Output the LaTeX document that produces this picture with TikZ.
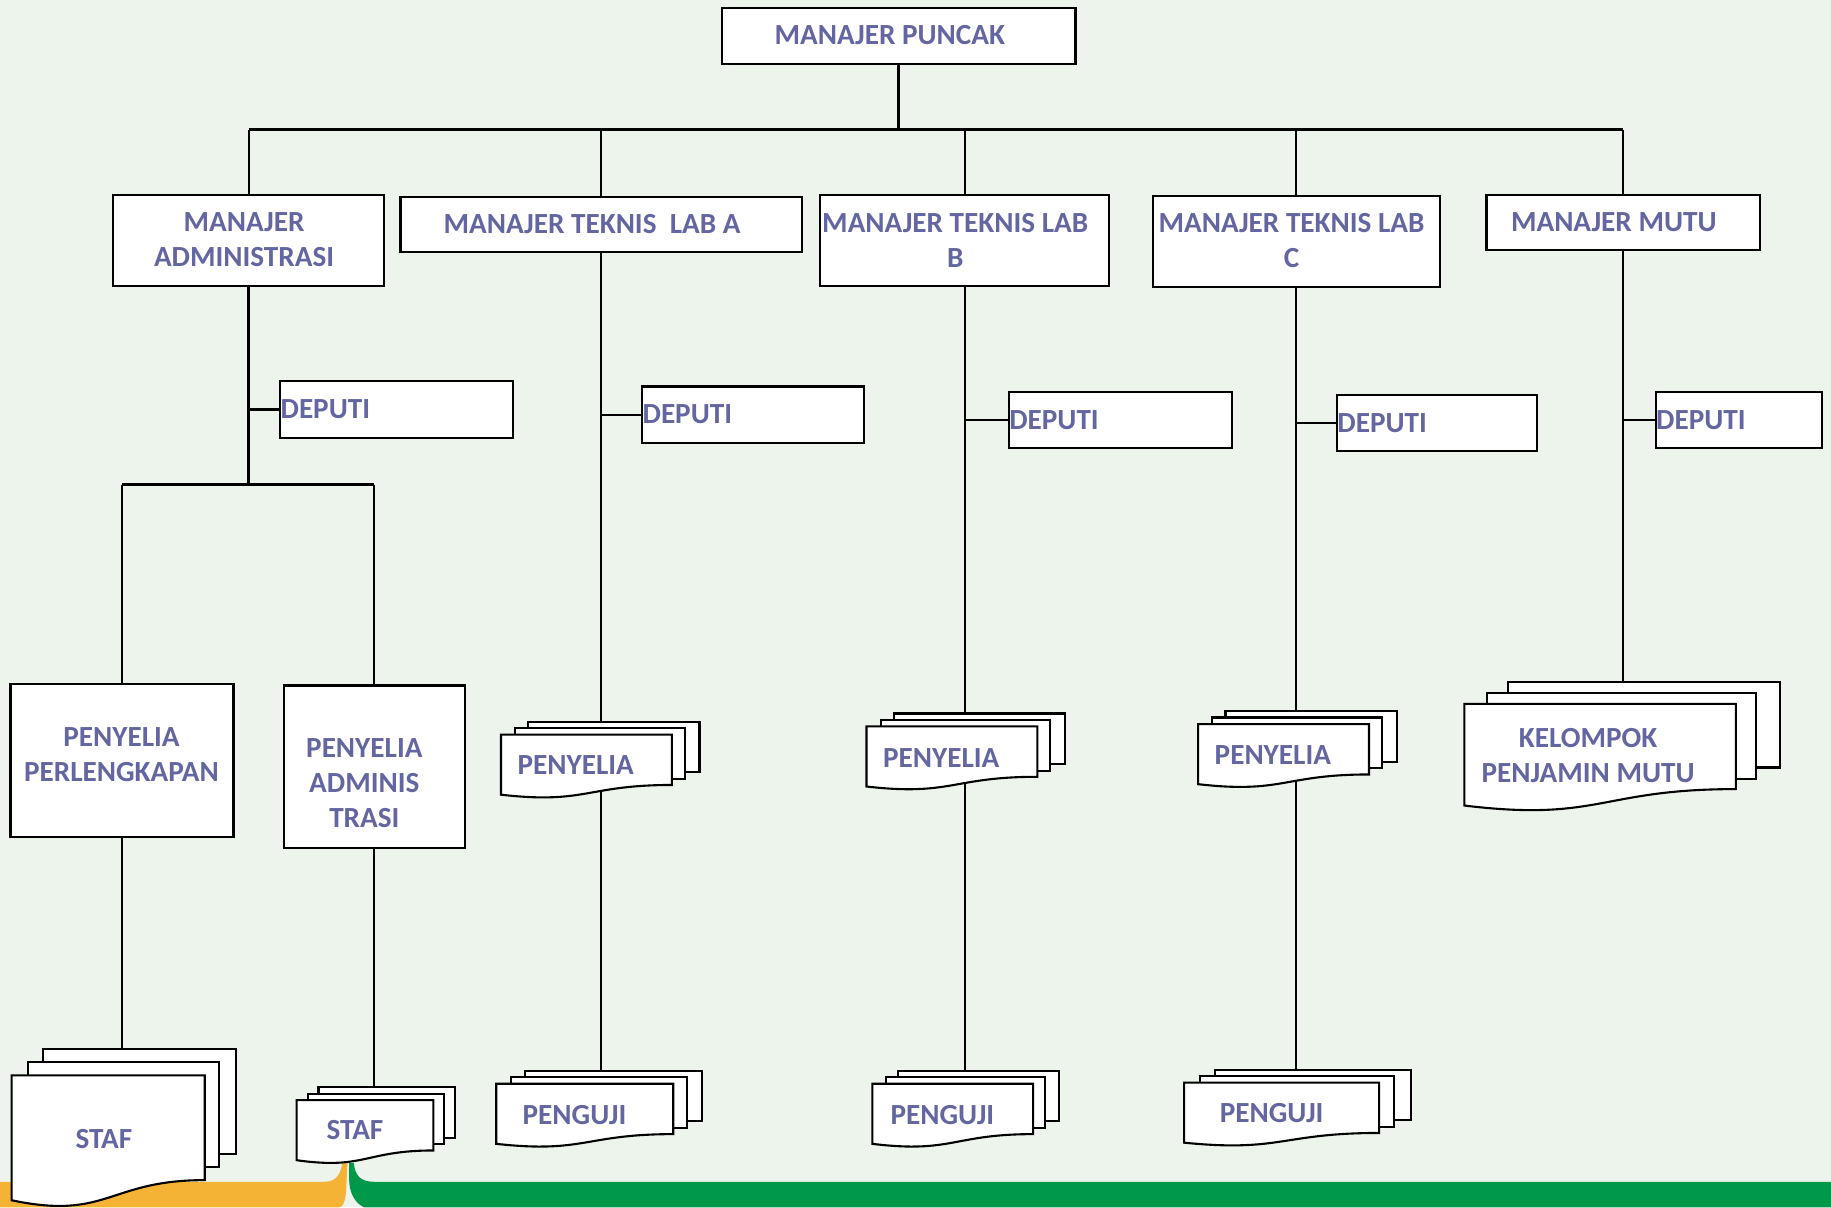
\documentclass[tikz,border=0pt]{standalone}
\usepackage{fontspec}
\setmainfont{Carlito}
\definecolor{txt}{HTML}{6366A0}
\definecolor{bgc}{HTML}{EDF4EC}
\definecolor{orng}{HTML}{F5B335}
\definecolor{grn}{HTML}{00994A}
\pgfdeclarelayer{bgcol}
\pgfdeclarelayer{lines}
\pgfsetlayers{bgcol,lines,main}
\newcommand\mymdoc[5]{%
 \coordinate (#1-top) at (#2,#3);
 \filldraw[doc] ({#2+0.138*#4},#3) rectangle ({#2+#4},{#3+0.666*#5});
 \filldraw[doc] ({#2+0.071*#4},{#3+0.084*#5}) rectangle ({#2+0.926*#4},{#3+0.752*#5});
 \filldraw[doc] (#2,{#3+0.17*#5}) -- ({#2+0.861*#4},{#3+0.17*#5}) -- ({#2+0.861*#4},{#3+0.834*#5}) .. controls ({#2+0.43*#4},{#3+0.834*#5}) and ({#2+0.43*#4},{#3+1.09*#5}) .. (#2,{#3+0.962*#5}) -- cycle;
}
\begin{document}
\begin{tikzpicture}[x=1pt,y=-1pt,
 box/.style={draw,fill=white,line width=1.8pt,inner sep=0pt},
 lbl/.style={text=txt,font=\bfseries\fontsize{25}{30}\selectfont,align=center,inner sep=0pt},
 doc/.style={fill=white,draw=black,line width=1.8pt,line join=miter},
 conn/.style={line width=1.7pt},
 tconn/.style={line width=2.8pt}]
\useasboundingbox (0,0) rectangle (1568,1034);
\begin{pgfonlayer}{bgcol}
\fill[bgc] (0,0) rectangle (1568,1034);
\fill[orng] (0,1012) -- (278,1012) .. controls (289,1012) and (292,1004) .. (293,996) -- (297.5,996) -- (296.5,1018) .. controls (296,1028) and (294,1034) .. (290,1034) -- (0,1034) -- cycle;
\fill[grn] (299,996) -- (303,996) .. controls (304,1006) and (308,1012) .. (320,1012) -- (1568,1012) -- (1568,1034) -- (312,1034) .. controls (303,1030) and (299,1020) .. (299,1010) -- cycle;
\end{pgfonlayer}

% boxes
\node[box,minimum width=303pt,minimum height=48pt] (top) at (769.5,31) {};
\node[box,minimum width=232pt,minimum height=78pt] (ma) at (213,206) {};
\node[box,minimum width=344pt,minimum height=47pt] (tla) at (515,192.5) {};
\node[box,minimum width=248pt,minimum height=78pt] (tlb) at (826,206) {};
\node[box,minimum width=246pt,minimum height=78pt] (tlc) at (1110,207) {};
\node[box,minimum width=234pt,minimum height=47pt] (mm) at (1390,190.5) {};
\node[box,minimum width=199pt,minimum height=49pt] (d1) at (339.5,350.5) {};
\node[box,minimum width=190pt,minimum height=48pt] (d2) at (645,355) {};
\node[box,minimum width=191pt,minimum height=48pt] (d3) at (959.5,360) {};
\node[box,minimum width=171pt,minimum height=48pt] (d4) at (1230.5,362) {};
\node[box,minimum width=142pt,minimum height=48pt] (d5) at (1489,360) {};
\node[box,minimum width=191pt,minimum height=131pt] (pp) at (104.5,651.5) {};
\node[box,minimum width=155pt,minimum height=139pt] (pat) at (320.5,656.5) {};

% multidocuments
\mymdoc{staf1}{10}{898}{192}{135}
\mymdoc{staf2}{254}{931}{136}{65}
\mymdoc{penA}{429}{618}{170}{65}
\mymdoc{pengA}{425}{917}{176}{65}
\mymdoc{penB}{742}{611}{170}{65}
\mymdoc{pengB}{747}{917}{160}{65}
\mymdoc{penC}{1026}{609}{170}{65}
\mymdoc{pengC}{1014}{916}{194}{65}
\mymdoc{kpm}{1254}{584}{270}{110}

% labels
\node[lbl] (ttop) at (762,30) {MANAJER PUNCAK};
\node[lbl] (tma) at (209,205) {MANAJER\\ADMINISTRASI};
\node[lbl] (ttla) at (507,192) {MANAJER TEKNIS\ \ LAB A};
\node[lbl] (ttlb) at (818,206) {MANAJER TEKNIS LAB\\B};
\node[lbl] (ttlc) at (1106,206) {MANAJER TEKNIS LAB\\C};
\node[lbl] (tmm) at (1382,190) {MANAJER MUTU};
\node[lbl,anchor=west] (td1) at ([xshift=1pt]d1.west) {DEPUTI};
\node[lbl,anchor=west] (td2) at ([xshift=1pt]d2.west) {DEPUTI};
\node[lbl,anchor=west] (td3) at ([xshift=1pt]d3.west) {DEPUTI};
\node[lbl,anchor=west] (td4) at ([xshift=1pt]d4.west) {DEPUTI};
\node[lbl,anchor=west] (td5) at ([xshift=1pt]d5.west) {DEPUTI};
\node[lbl] (tpp) at (104,646) {PENYELIA\\PERLENGKAPAN};
\node[lbl] (tpat) at (312,671) {PENYELIA\\ADMINIS\\TRASI};
\node[lbl] (tstaf1) at (89,975) {STAF};
\node[lbl] (tstaf2) at (304,968) {STAF};
\node[lbl] (tpenA) at (493,655) {PENYELIA};
\node[lbl] (tpengA) at (492,955) {PENGUJI};
\node[lbl] (tpenB) at (806,649) {PENYELIA};
\node[lbl] (tpengB) at (807,955) {PENGUJI};
\node[lbl] (tpenC) at (1090,647) {PENYELIA};
\node[lbl] (tpengC) at (1089,953) {PENGUJI};
\node[lbl] (tkpm) at (1360,647) {KELOMPOK\\PENJAMIN MUTU};

\coordinate (bus) at (769,111);
\coordinate (adm) at (213,415);

% connectors
\begin{pgfonlayer}{lines}
\draw[tconn] (top.south) -- (top.south |- bus);
\draw[line width=2.4pt] (ma.north |- bus) -- (mm.north |- bus);
\foreach \n in {ma,tla,tlb,tlc,mm} \draw[conn] (\n.north |- bus) -- (\n.north);
\draw[tconn] (ma.south) -- (ma.south |- adm);
\draw[tconn] (ma.south |- d1.west) -- (d1.west);
\draw[line width=2.4pt] (pp.north |- adm) -- (pat.north |- adm);
\draw[conn] (pp.north |- adm) -- (pp.north);
\draw[conn] (pat.north |- adm) -- (pat.north);
\draw[conn] (pp.south) -- (pp.south |- staf1-top);
\draw[conn] (pat.south) -- (pat.south |- staf2-top);
\draw[conn] (tla.south) -- (tla.south |- pengA-top);
\draw[conn] (tla.south |- d2.west) -- (d2.west);
\draw[conn] (tlb.south) -- (tlb.south |- pengB-top);
\draw[conn] (tlb.south |- d3.west) -- (d3.west);
\draw[conn] (tlc.south) -- (tlc.south |- pengC-top);
\draw[conn] (tlc.south |- d4.west) -- (d4.west);
\draw[conn] (mm.south) -- (mm.south |- kpm-top);
\draw[conn] (mm.south |- d5.west) -- (d5.west);
\end{pgfonlayer}
\end{tikzpicture}
\end{document}
